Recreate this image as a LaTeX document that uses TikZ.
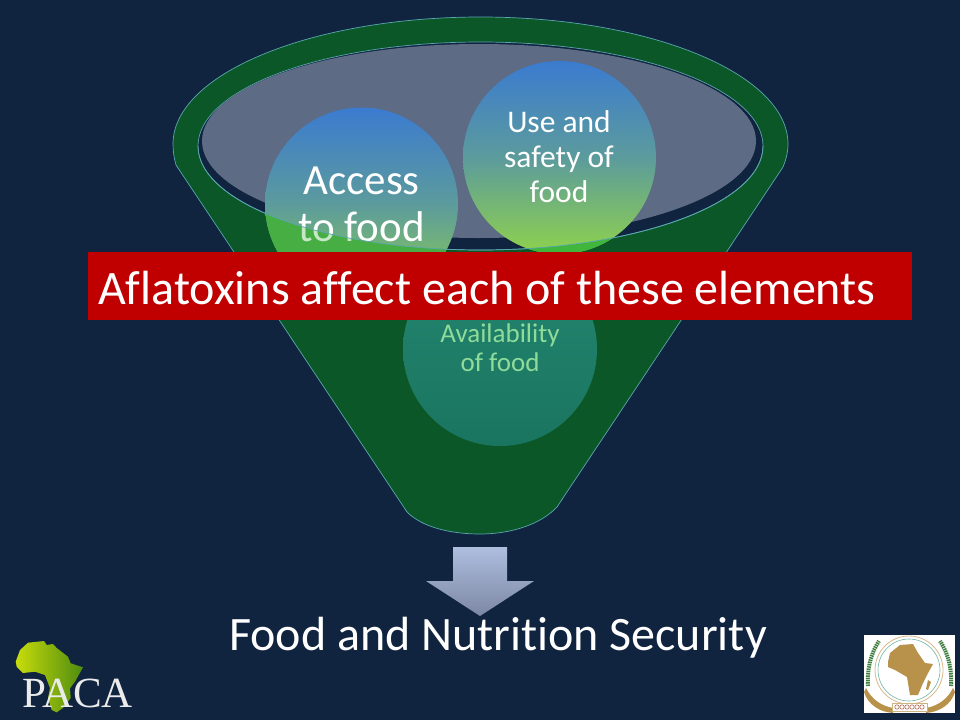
\documentclass[tikz,border=0pt]{standalone}
\usepackage{fontspec}
\setmainfont[Ligatures=NoCommon]{Carlito}
\newfontfamily\pacafont{Liberation Serif}
\definecolor{bgc}{HTML}{10243F}
\definecolor{fun}{HTML}{0C5727}
\definecolor{edgec}{HTML}{5AA6B0}
\definecolor{graye}{HTML}{5D6B85}
\definecolor{barc}{HTML}{C00000}
\definecolor{blue1}{HTML}{3B7BD0}
\definecolor{mid1}{HTML}{5C9B9C}
\definecolor{green1}{HTML}{8FD24C}
\definecolor{frontg}{HTML}{47AE44}
\definecolor{availa}{HTML}{238670}
\definecolor{availb}{HTML}{1A7560}
\definecolor{availt}{HTML}{8FDB9A}
\definecolor{arrowa}{HTML}{AEBEDF}
\definecolor{arrowb}{HTML}{7C87A3}
\definecolor{logoa}{HTML}{C8DC0A}
\definecolor{logob}{HTML}{4E8C10}
\definecolor{embc}{HTML}{B8924A}
\definecolor{emba}{HTML}{D9B98A}
\definecolor{embb}{HTML}{6FB5A0}
\definecolor{embd}{HTML}{3F7F3F}
\definecolor{embr}{HTML}{B06A50}
\tikzset{
  x=1pt,y=-1pt,
  bubble/.style={circle,minimum size=193pt,inner sep=0pt,top color=blue1,bottom color=green1,middle color=mid1},
  funneledge/.style={draw=edgec,line width=0.7pt}
}
\newcommand{\frontwall}{(198,146) .. controls (198,203.4) and (325,250) .. (480.5,250)
  .. controls (636,250) and (763,203.4) .. (763,146) -- (770,260) -- (190,260) -- cycle}
\begin{document}
\begin{tikzpicture}
\useasboundingbox (0,0) rectangle (960,720);
\fill[bgc] (0,0) rectangle (960,720);
% funnel body
\path[fill=fun,funneledge] (176,165) .. controls (174,158) and (173,151) .. (173,144)
  .. controls (173,74) and (311,17) .. (480.5,17)
  .. controls (650,17) and (788,74) .. (788,144)
  .. controls (788,152) and (786,160) .. (783,167)
  -- (557,507) .. controls (540,525) and (510,534) .. (480,534)
  .. controls (450,534) and (422,527) .. (407,512) -- cycle;
% mouth
\path[fill=bgc,funneledge] (480.5,146) ellipse [x radius=282.5,y radius=104];
\fill[graye] (479,141) ellipse [x radius=277,y radius=97];
% circles
\node[bubble] (access) at (361.5,204) {};
\node[bubble] (use) at (559.5,157.5) {};
\node[circle,minimum size=194pt,inner sep=0pt,top color=availa,bottom color=availb] (avail) at (500,349) {};
% texts in circles
\node[text=white,align=center,font=\fontsize{43}{47}\selectfont] (t1) at (361.5,204) {Access\\to food};
\node[text=white,align=center,font=\fontsize{31.5}{35}\selectfont] (t2) at (559,157) {Use and\\safety of\\food};
\node[text=availt,align=center,font=\fontsize{27}{29}\selectfont] (t3) at (500,348) {Availability\\of food};
% the parts of the circles seen through the front wall
\begin{scope}
\clip \frontwall;
\fill[frontg] (access.center) circle (96.5);
\fill[frontg!90!green] (use.center) circle (96.5);
\node[text=white!70!frontg,align=center,font=\fontsize{43}{47}\selectfont] at (361.5,204) {Access\\to food};
\end{scope}
\draw[edgec,line width=0.7pt] (198,146) .. controls (198,203.4) and (325,250) .. (480.5,250)
  .. controls (636,250) and (763,203.4) .. (763,146);
% bar
\node[fill=barc,minimum width=824pt,minimum height=68pt,inner sep=0pt] (bar) at (500,286) {};
\node[text=white,anchor=base west,inner sep=0pt,font=\fontsize{48}{50}\selectfont] (bartext) at (98,304) {Aflatoxins affect each of these elements};
% arrow
\shade[top color=arrowa,bottom color=arrowb] (453,547) -- (507,547) -- (507,581) -- (534,581) -- (480,616) -- (426,581) -- (453,581) -- cycle;
\node[text=white,inner sep=0pt,anchor=base,font=\fontsize{48}{50}\selectfont] (fns) at (498,650) {Food and Nutrition Security};
% PACA logo
\shade[left color=logoa,middle color=logoa!85!logob,right color=logob] (15.7,661.7) -- (20,650) -- (28,642.7) -- (44,641) -- (46.7,645) -- (53,644) -- (56.7,648) -- (68,656.7) -- (70.7,663.3) -- (83,667.3) -- (75,681.7) -- (70,688.3) -- (70.7,698) -- (63,708) -- (56.7,712.3) -- (51.7,710) -- (48,698) -- (50,688) -- (45,675) -- (35,671.7) -- (23,673) -- (16.7,666.7) -- cycle;
\node[text=white!92!black,inner sep=0pt,anchor=base,font=\pacafont\fontsize{43}{43}\selectfont] (paca) at (77.5,707) {PACA};
% AU emblem
\node[fill=white,minimum width=91pt,minimum height=78pt,inner sep=0pt] (au) at (909.5,674) {};
\draw[emba,line width=0.8pt] (909,670) circle (34);
\draw[embb,line width=0.6pt] (909,670) circle (31);
\fill[embc] (888,662) -- (890,653) -- (900,645) -- (913,644) -- (918,653) -- (925,663) -- (933,664) -- (927,675) -- (923,683) -- (918,695) -- (910,695) -- (907,677) -- (895,670) -- (888,667) -- cycle;
\fill[embc] (928,680) -- (931,682) -- (928,690) -- (926,689) -- cycle;
\fill[embc] (866,688) .. controls (872,700) and (882,706) .. (893,708) -- (893,713) .. controls (880,712) and (868,705) .. (864,692) -- cycle;
\fill[embc] (953,688) .. controls (947,700) and (937,706) .. (926,708) -- (926,713) .. controls (939,712) and (951,705) .. (955,692) -- cycle;
\draw[embd,line width=4pt,dash pattern=on 1.5pt off 0.8pt] (868,686) .. controls (867,670) and (870,655) .. (879,641);
\draw[embd,line width=4pt,dash pattern=on 1.5pt off 0.8pt] (951,686) .. controls (952,670) and (949,655) .. (940,641);
\draw[embc!70!white,fill=white,line width=0.6pt] (892,703) rectangle (927,711);
\foreach \cx in {897,902,907,912,917,922} \draw[embr,line width=0.6pt] (\cx,707) circle (2.2);
\end{tikzpicture}
\end{document}
